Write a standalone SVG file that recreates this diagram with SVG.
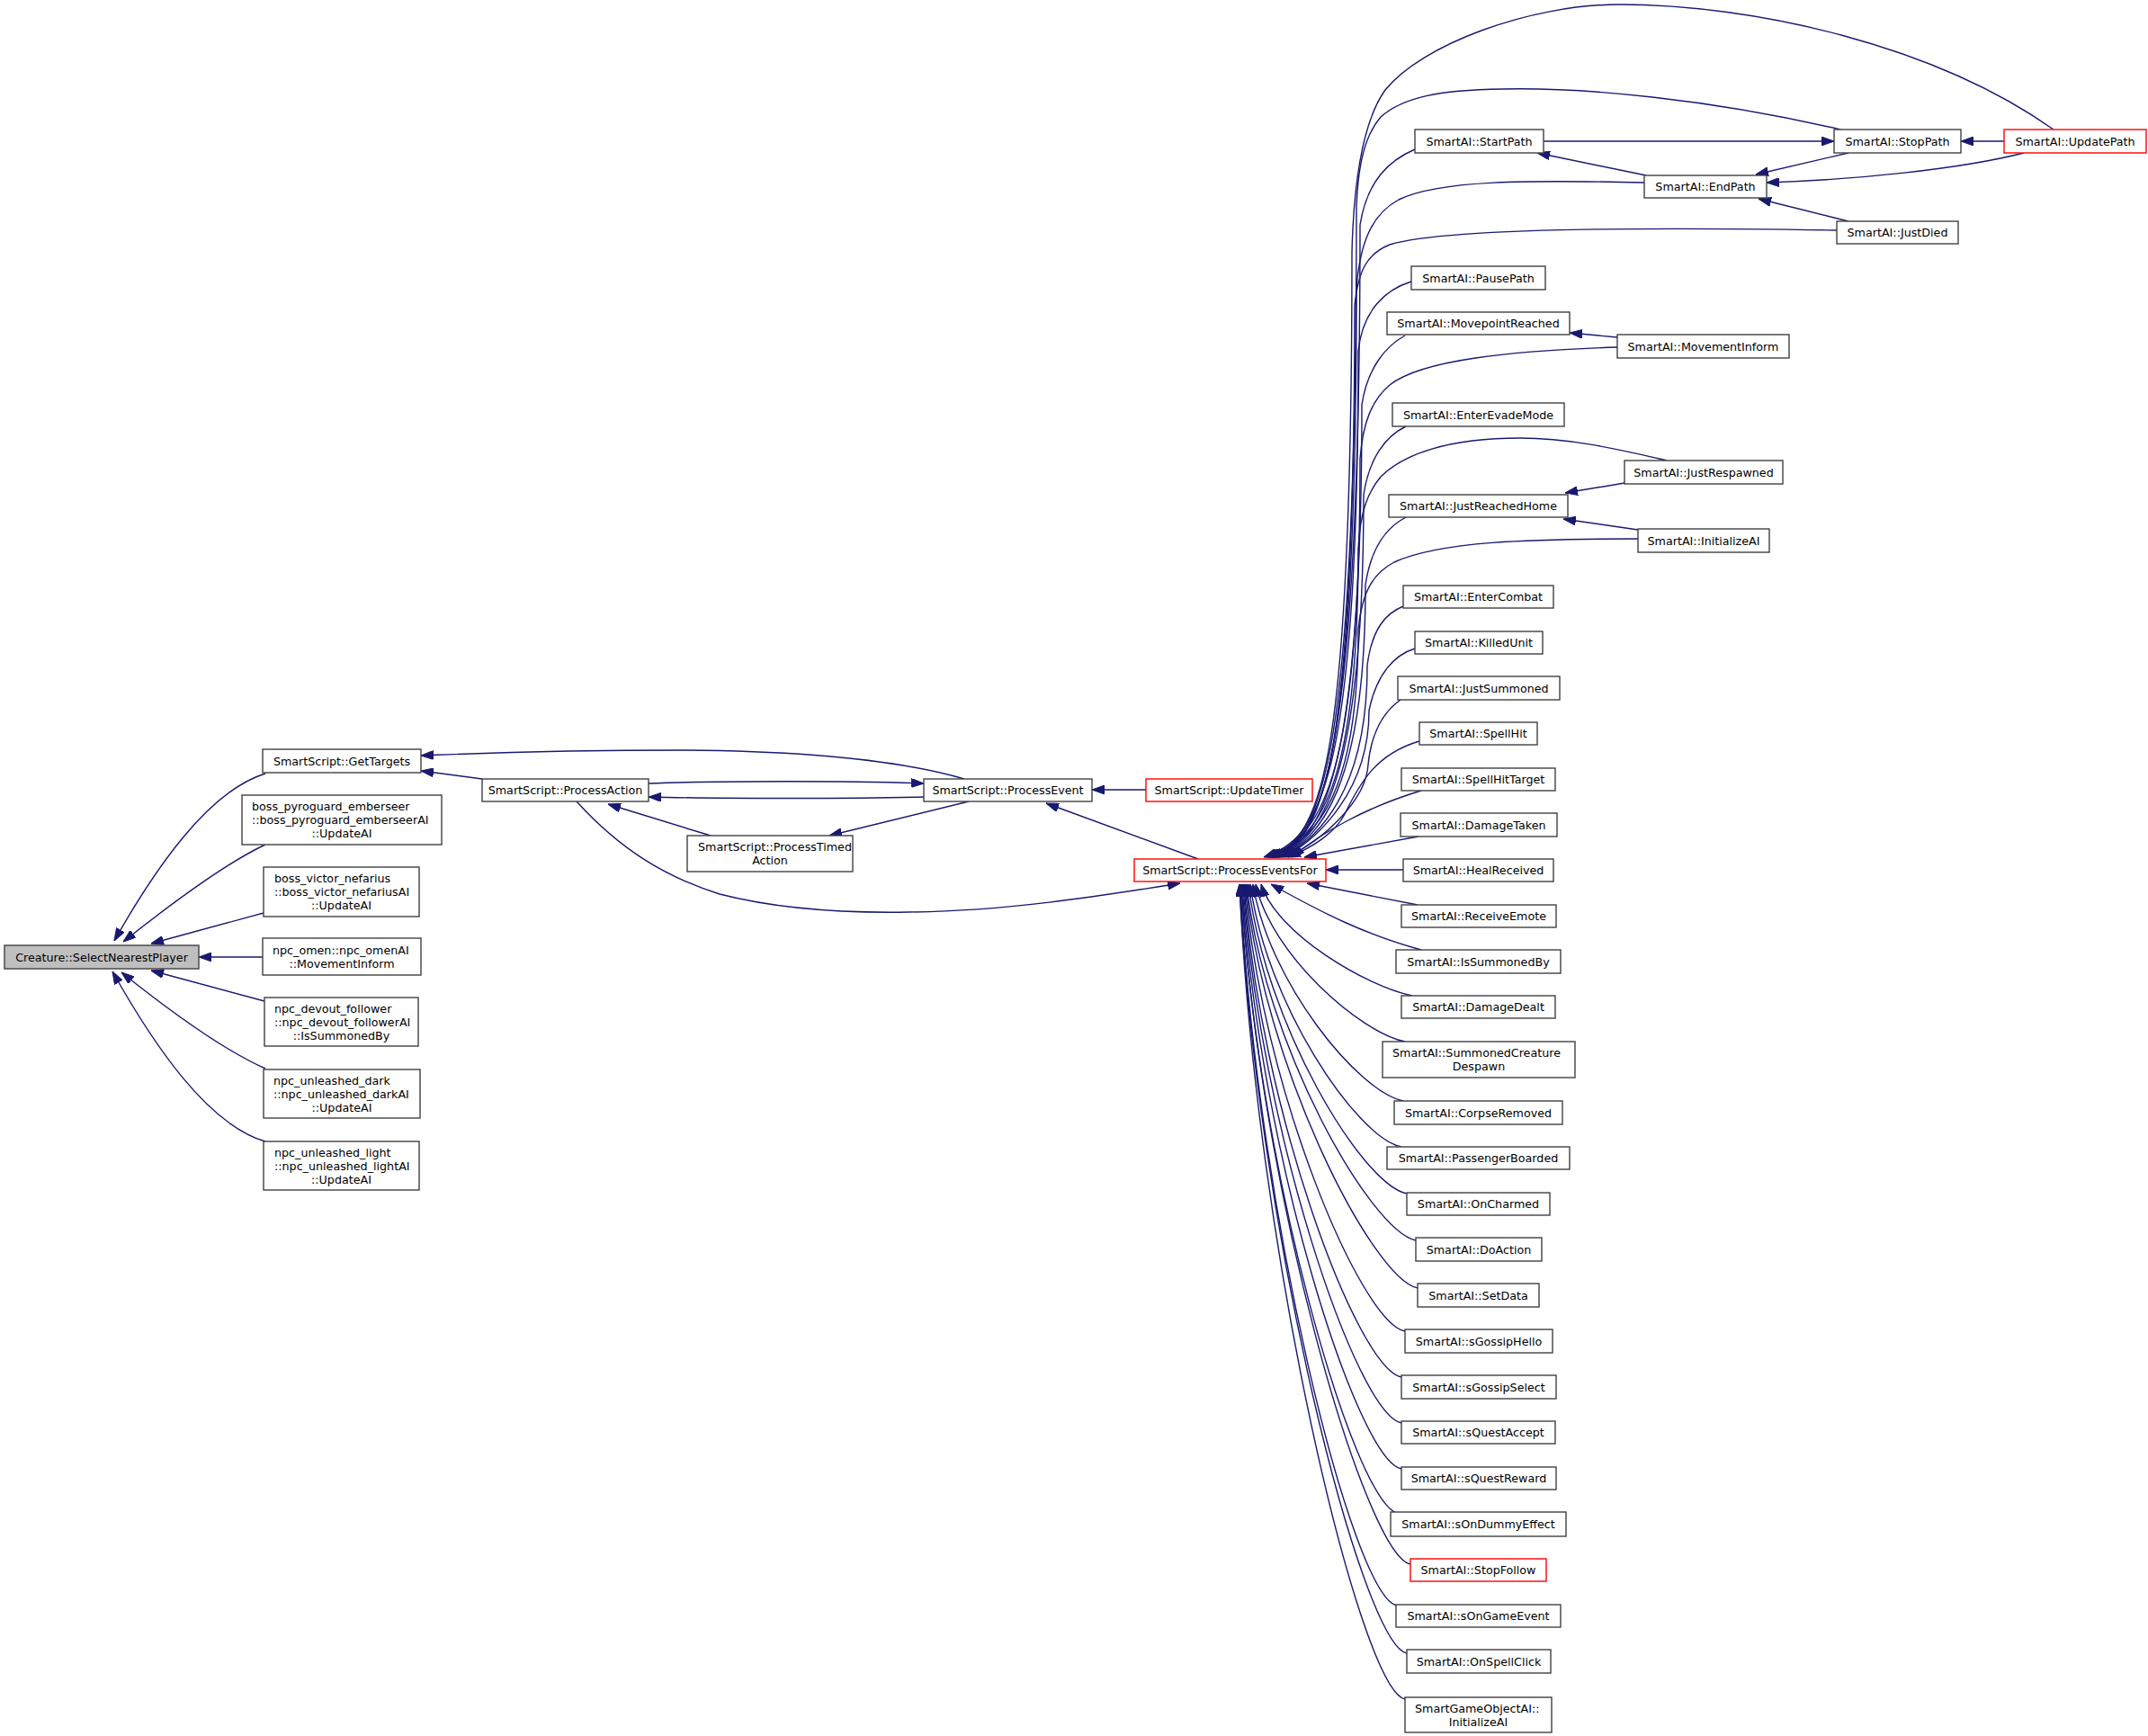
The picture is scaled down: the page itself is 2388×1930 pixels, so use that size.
<svg xmlns="http://www.w3.org/2000/svg" width="2388" height="1930" viewBox="0 0 2388 1930">
<style>
.n rect{fill:#ffffff;stroke:#404040;stroke-width:1.4}
.n.r rect{stroke:#ff0000}
.n.g rect{fill:#bfbfbf}
text{font-family:"DejaVu Sans","Liberation Sans",sans-serif;font-size:12.7px;fill:#000000}
.c{text-anchor:middle}
.l{text-anchor:start}
#edges path{fill:none;stroke:#191970;stroke-width:1.4;marker-end:url(#a)}
</style>
<defs>
<marker id="a" viewBox="0 0 14 10" refX="14" refY="5" markerWidth="14" markerHeight="10" markerUnits="userSpaceOnUse" orient="auto">
<path d="M0,0 L14,5 L0,10 z" fill="#191970" stroke="#191970" stroke-width="1"/>
</marker>
</defs>
<rect x="0" y="0" width="2388" height="1930" fill="#ffffff"/>
<g id="edges">
<path d="M295,860 C230,880 170,970 127,1046"/>
<path d="M295,939 C250,960 190,1005 137,1047"/>
<path d="M293,1015 L168,1049"/>
<path d="M292,1064 L221,1064"/>
<path d="M294,1113 L168,1079"/>
<path d="M295,1188 C250,1168 190,1125 135,1081"/>
<path d="M295,1269 C230,1250 170,1160 125,1080"/>
<path d="M536,866 L468,857"/>
<path d="M1072,866 C1000,845 900,835 760,834 C600,834 520,838 468,840"/>
<path d="M721,871 C800,868 950,868 1027,871"/>
<path d="M1027,886 C950,888 800,888 721,886"/>
<path d="M790,929 L676,894"/>
<path d="M1077,891 L922,929"/>
<path d="M641,891 C690,945 740,975 800,994 C870,1012 950,1015 1010,1014 C1120,1013 1230,995 1312,982"/>
<path d="M1274,878 L1214,878"/>
<path d="M1332,955 L1163,893"/>
<path d="M1716,157 L2039,157"/>
<path d="M2228,157 L2180,157"/>
<path d="M1830,195 L1709,170"/>
<path d="M2055,170 L1952,194"/>
<path d="M2250,170 C2180,188 2060,200 1964,203"/>
<path d="M2055,246 L1955,221"/>
<path d="M1798,375 L1745,370"/>
<path d="M1806,537 L1740,548"/>
<path d="M1821,589 L1738,577"/>
<path d="M2283,144 C2150,50 1950,5 1800,5 C1700,5 1580,50 1540,100 C1515,135 1505,200 1503,280 C1503,880 1465,932 1410,953"/>
<path d="M2046,144 C1900,110 1760,97 1670,99 C1600,100 1560,108 1535,130 C1518,150 1510,180 1508,230 C1508,880 1465,932 1412,953"/>
<path d="M1573,166 C1545,178 1520,200 1512,250 C1512,880 1465,932 1414,953"/>
<path d="M1828,203 C1700,200 1600,200 1555,222 C1525,238 1512,270 1508,320 C1508,880 1465,932 1416,953"/>
<path d="M2042,256 C1800,252 1600,255 1545,272 C1520,282 1510,300 1506,340 C1506,880 1465,932 1418,953"/>
<path d="M1569,313 C1540,322 1515,345 1510,390 C1510,880 1465,932 1405,953"/>
<path d="M1562,373 C1540,385 1520,410 1514,450 C1514,880 1465,932 1420,953"/>
<path d="M1798,386 C1680,390 1580,400 1545,428 C1525,445 1515,470 1512,510 C1512,880 1465,932 1408,953"/>
<path d="M1563,474 C1540,485 1522,510 1516,550 C1516,880 1465,932 1422,953"/>
<path d="M1853,512 C1790,497 1740,487 1690,487 C1610,487 1560,505 1535,530 C1520,548 1512,570 1510,610 C1510,880 1465,932 1412,953"/>
<path d="M1563,575 C1540,587 1524,610 1518,650 C1518,880 1465,932 1424,953"/>
<path d="M1821,599 C1700,599 1600,602 1550,625 C1525,638 1514,660 1510,700 C1510,880 1465,932 1415,953"/>
<path d="M1560,674 C1540,682 1525,700 1520,740 C1520,880 1465,932 1426,953"/>
<path d="M1573,721 C1550,728 1530,750 1522,790 C1522,880 1465,932 1428,953"/>
<path d="M1557,778 C1540,790 1525,810 1521,850 C1519,890 1470,935 1430,953"/>
<path d="M1578,824 C1530,838 1512,870 1495,905 C1485,925 1460,942 1432,953"/>
<path d="M1580,879 C1520,897 1470,925 1436,953"/>
<path d="M1577,930 L1450,953"/>
<path d="M1560,967 L1474,967"/>
<path d="M1576,1006 L1453,982"/>
<path d="M1580,1056 C1520,1040 1470,1015 1413,983"/>
<path d="M1570,1107 C1520,1097 1419,1038 1402,983"/>
<path d="M1562,1158 C1512,1148 1413,1061 1396,983"/>
<path d="M1560,1224 C1510,1214 1410,1091 1393,983"/>
<path d="M1558,1275 C1508,1265 1407,1114 1390,983"/>
<path d="M1564,1327 C1514,1317 1406,1137 1388,983"/>
<path d="M1574,1379 C1524,1369 1405,1161 1386,983"/>
<path d="M1576,1432 C1526,1422 1404,1184 1385,983"/>
<path d="M1562,1480 C1512,1470 1402,1206 1384,983"/>
<path d="M1558,1531 C1508,1521 1400,1229 1383,983"/>
<path d="M1558,1582 C1508,1572 1400,1252 1382,983"/>
<path d="M1558,1633 C1508,1623 1399,1275 1381,983"/>
<path d="M1555,1683 C1505,1673 1397,1296 1380,983"/>
<path d="M1568,1739 C1518,1729 1399,1322 1380,983"/>
<path d="M1553,1785 C1503,1775 1396,1342 1379,983"/>
<path d="M1564,1838 C1514,1828 1397,1367 1378,983"/>
<path d="M1562,1889 C1512,1879 1396,1390 1378,983"/>
</g>
<g id="n_creature" class="n g"><rect x="5" y="1051" width="216" height="26"/><text class="c" x="113" y="1068.5">Creature::SelectNearestPlayer</text></g>
<g id="n_gettargets" class="n"><rect x="292" y="833" width="176" height="26"/><text class="c" x="380" y="850.5">SmartScript::GetTargets</text></g>
<g id="n_pyroguard" class="n"><rect x="269" y="884" width="222" height="55"/><text class="l" x="280" y="901">boss_pyroguard_emberseer</text><text class="l" x="280" y="916">::boss_pyroguard_emberseerAI</text><text class="c" x="380" y="931">::UpdateAI</text></g>
<g id="n_victor" class="n"><rect x="293" y="964" width="173" height="55"/><text class="l" x="305" y="981">boss_victor_nefarius</text><text class="l" x="305" y="996">::boss_victor_nefariusAI</text><text class="c" x="379.5" y="1011">::UpdateAI</text></g>
<g id="n_omen" class="n"><rect x="292" y="1043" width="176" height="41"/><text class="l" x="303" y="1060.5">npc_omen::npc_omenAI</text><text class="c" x="380" y="1075.5">::MovementInform</text></g>
<g id="n_devout" class="n"><rect x="294" y="1109" width="171" height="54"/><text class="l" x="305" y="1125.5">npc_devout_follower</text><text class="l" x="305" y="1140.5">::npc_devout_followerAI</text><text class="c" x="379.5" y="1155.5">::IsSummonedBy</text></g>
<g id="n_dark" class="n"><rect x="293" y="1189" width="174" height="54"/><text class="l" x="304" y="1205.5">npc_unleashed_dark</text><text class="l" x="304" y="1220.5">::npc_unleashed_darkAI</text><text class="c" x="380" y="1235.5">::UpdateAI</text></g>
<g id="n_light" class="n"><rect x="293" y="1269" width="173" height="54"/><text class="l" x="305" y="1285.5">npc_unleashed_light</text><text class="l" x="305" y="1300.5">::npc_unleashed_lightAI</text><text class="c" x="379.5" y="1315.5">::UpdateAI</text></g>
<g id="n_processaction" class="n"><rect x="536" y="866" width="185" height="25"/><text class="c" x="628.5" y="883">SmartScript::ProcessAction</text></g>
<g id="n_processtimed" class="n"><rect x="764" y="929" width="184" height="40"/><text class="l" x="776" y="946">SmartScript::ProcessTimed</text><text class="c" x="856" y="961">Action</text></g>
<g id="n_processevent" class="n"><rect x="1027" y="866" width="187" height="25"/><text class="c" x="1120.5" y="883">SmartScript::ProcessEvent</text></g>
<g id="n_updatetimer" class="n r"><rect x="1274" y="866" width="185" height="25"/><text class="c" x="1366.5" y="883">SmartScript::UpdateTimer</text></g>
<g id="n_processeventsfor" class="n r"><rect x="1261" y="955" width="213" height="25"/><text class="c" x="1367.5" y="972">SmartScript::ProcessEventsFor</text></g>
<g id="n_startpath" class="n"><rect x="1573" y="144" width="143" height="26"/><text class="c" x="1644.5" y="161.5">SmartAI::StartPath</text></g>
<g id="n_stoppath" class="n"><rect x="2039" y="144" width="141" height="26"/><text class="c" x="2109.5" y="161.5">SmartAI::StopPath</text></g>
<g id="n_updatepath" class="n r"><rect x="2228" y="144" width="158" height="26"/><text class="c" x="2307" y="161.5">SmartAI::UpdatePath</text></g>
<g id="n_endpath" class="n"><rect x="1828" y="195" width="136" height="25"/><text class="c" x="1896" y="212">SmartAI::EndPath</text></g>
<g id="n_justdied" class="n"><rect x="2042" y="246" width="135" height="25"/><text class="c" x="2109.5" y="263">SmartAI::JustDied</text></g>
<g id="n_pausepath" class="n"><rect x="1569" y="296" width="149" height="26"/><text class="c" x="1643.5" y="313.5">SmartAI::PausePath</text></g>
<g id="n_movepoint" class="n"><rect x="1542" y="347" width="203" height="25"/><text class="c" x="1643.5" y="364">SmartAI::MovepointReached</text></g>
<g id="n_movementinform" class="n"><rect x="1798" y="372" width="191" height="26"/><text class="c" x="1893.5" y="389.5">SmartAI::MovementInform</text></g>
<g id="n_enterevade" class="n"><rect x="1548" y="448" width="191" height="26"/><text class="c" x="1643.5" y="465.5">SmartAI::EnterEvadeMode</text></g>
<g id="n_justrespawned" class="n"><rect x="1806" y="512" width="176" height="26"/><text class="c" x="1894" y="529.5">SmartAI::JustRespawned</text></g>
<g id="n_justreachedhome" class="n"><rect x="1544" y="550" width="199" height="25"/><text class="c" x="1643.5" y="567">SmartAI::JustReachedHome</text></g>
<g id="n_initializeai" class="n"><rect x="1821" y="588" width="146" height="26"/><text class="c" x="1894" y="605.5">SmartAI::InitializeAI</text></g>
<g id="n_entercombat" class="n"><rect x="1560" y="651" width="167" height="25"/><text class="c" x="1643.5" y="668">SmartAI::EnterCombat</text></g>
<g id="n_killedunit" class="n"><rect x="1573" y="702" width="142" height="25"/><text class="c" x="1644" y="719">SmartAI::KilledUnit</text></g>
<g id="n_justsummoned" class="n"><rect x="1554" y="752" width="180" height="26"/><text class="c" x="1644" y="769.5">SmartAI::JustSummoned</text></g>
<g id="n_spellhit" class="n"><rect x="1578" y="803" width="131" height="25"/><text class="c" x="1643.5" y="820">SmartAI::SpellHit</text></g>
<g id="n_spellhittarget" class="n"><rect x="1558" y="854" width="171" height="25"/><text class="c" x="1643.5" y="871">SmartAI::SpellHitTarget</text></g>
<g id="n_damagetaken" class="n"><rect x="1557" y="904" width="174" height="26"/><text class="c" x="1644" y="921.5">SmartAI::DamageTaken</text></g>
<g id="n_healreceived" class="n"><rect x="1560" y="955" width="167" height="25"/><text class="c" x="1643.5" y="972">SmartAI::HealReceived</text></g>
<g id="n_receiveemote" class="n"><rect x="1558" y="1006" width="172" height="25"/><text class="c" x="1644" y="1023">SmartAI::ReceiveEmote</text></g>
<g id="n_issummonedby" class="n"><rect x="1552" y="1056" width="183" height="26"/><text class="c" x="1643.5" y="1073.5">SmartAI::IsSummonedBy</text></g>
<g id="n_damagedealt" class="n"><rect x="1558" y="1107" width="171" height="25"/><text class="c" x="1643.5" y="1124">SmartAI::DamageDealt</text></g>
<g id="n_summonedcreaturedespawn" class="n"><rect x="1537" y="1158" width="214" height="40"/><text class="l" x="1548" y="1175">SmartAI::SummonedCreature</text><text class="c" x="1644" y="1190">Despawn</text></g>
<g id="n_corpseremoved" class="n"><rect x="1550" y="1224" width="187" height="26"/><text class="c" x="1643.5" y="1241.5">SmartAI::CorpseRemoved</text></g>
<g id="n_passengerboarded" class="n"><rect x="1542" y="1275" width="203" height="25"/><text class="c" x="1643.5" y="1292">SmartAI::PassengerBoarded</text></g>
<g id="n_oncharmed" class="n"><rect x="1564" y="1326" width="159" height="25"/><text class="c" x="1643.5" y="1343">SmartAI::OnCharmed</text></g>
<g id="n_doaction" class="n"><rect x="1574" y="1376" width="140" height="26"/><text class="c" x="1644" y="1393.5">SmartAI::DoAction</text></g>
<g id="n_setdata" class="n"><rect x="1576" y="1427" width="135" height="26"/><text class="c" x="1643.5" y="1444.5">SmartAI::SetData</text></g>
<g id="n_sgossiphello" class="n"><rect x="1562" y="1478" width="164" height="26"/><text class="c" x="1644" y="1495.5">SmartAI::sGossipHello</text></g>
<g id="n_sgossipselect" class="n"><rect x="1558" y="1529" width="172" height="26"/><text class="c" x="1644" y="1546.5">SmartAI::sGossipSelect</text></g>
<g id="n_squestaccept" class="n"><rect x="1558" y="1580" width="171" height="25"/><text class="c" x="1643.5" y="1597">SmartAI::sQuestAccept</text></g>
<g id="n_squestreward" class="n"><rect x="1558" y="1631" width="172" height="25"/><text class="c" x="1644" y="1648">SmartAI::sQuestReward</text></g>
<g id="n_sondummyeffect" class="n"><rect x="1546" y="1681" width="195" height="27"/><text class="c" x="1643.5" y="1699">SmartAI::sOnDummyEffect</text></g>
<g id="n_stopfollow" class="n r"><rect x="1568" y="1733" width="151" height="25"/><text class="c" x="1643.5" y="1750">SmartAI::StopFollow</text></g>
<g id="n_songameevent" class="n"><rect x="1552" y="1784" width="183" height="25"/><text class="c" x="1643.5" y="1801">SmartAI::sOnGameEvent</text></g>
<g id="n_onspellclick" class="n"><rect x="1564" y="1834" width="160" height="26"/><text class="c" x="1644" y="1851.5">SmartAI::OnSpellClick</text></g>
<g id="n_smartgameobjectai" class="n"><rect x="1562" y="1887" width="163" height="39"/><text class="l" x="1573" y="1903.5">SmartGameObjectAI::</text><text class="c" x="1643.5" y="1918.5">InitializeAI</text></g>
</svg>
